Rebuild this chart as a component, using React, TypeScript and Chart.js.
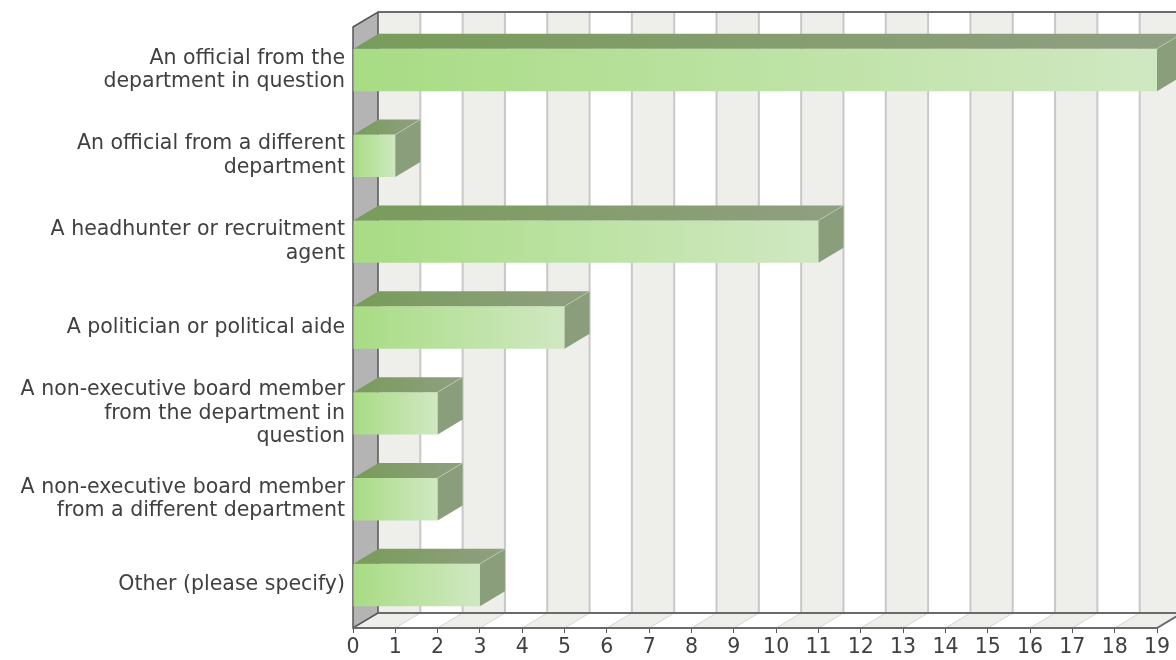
import { useEffect, useRef } from 'react';
import { Chart, registerables } from 'chart.js';

Chart.register(...registerables);

const categories: string[][] = [
  ['An official from the', 'department in question'],
  ['An official from a different', 'department'],
  ['A headhunter or recruitment', 'agent'],
  ['A politician or political aide'],
  ['A non-executive board member', 'from the department in', 'question'],
  ['A non-executive board member', 'from a different department'],
  ['Other (please specify)'],
];
const values: number[] = [19, 1, 11, 5, 2, 2, 3];
const axisMin = 0;
const axisMax = 19;
const axisStep = 1;

const DX = 25;
const DY = 15;
const FONT = 'DejaVu Sans';

const threeD = {
  id: 'threeD',
  beforeDatasetsDraw(chart: any) {
    const ctx: CanvasRenderingContext2D = chart.ctx;
    const { left, right, top, bottom } = chart.chartArea;
    const xs = chart.scales.x;
    ctx.save();
    const bt = top - DY;
    const bb = bottom - DY;
    ctx.fillStyle = '#ffffff';
    ctx.fillRect(left + DX, bt, right - left, bb - bt);
    for (let v = axisMin; v < axisMax; v += axisStep) {
      const i = Math.round((v - axisMin) / axisStep);
      const f0 = xs.getPixelForValue(v);
      const f1 = xs.getPixelForValue(v + axisStep);
      ctx.fillStyle = i % 2 === 0 ? '#eeeeea' : '#ffffff';
      ctx.fillRect(f0 + DX, bt, f1 - f0, bb - bt);
      ctx.beginPath();
      ctx.moveTo(f0, bottom);
      ctx.lineTo(f1, bottom);
      ctx.lineTo(f1 + DX, bb);
      ctx.lineTo(f0 + DX, bb);
      ctx.closePath();
      ctx.fill();
    }
    for (let v = axisMin + axisStep; v <= axisMax; v += axisStep) {
      const fx = xs.getPixelForValue(v);
      ctx.strokeStyle = '#c8c8c8';
      ctx.lineWidth = 2;
      ctx.beginPath();
      ctx.moveTo(fx + DX, bt);
      ctx.lineTo(fx + DX, bb);
      ctx.stroke();
      ctx.strokeStyle = '#d4d4d0';
      ctx.lineWidth = 1;
      ctx.beginPath();
      ctx.moveTo(fx, bottom);
      ctx.lineTo(fx + DX, bb);
      ctx.stroke();
    }
    ctx.fillStyle = '#b4b4b4';
    ctx.beginPath();
    ctx.moveTo(left, top);
    ctx.lineTo(left + DX, bt);
    ctx.lineTo(left + DX, bb);
    ctx.lineTo(left, bottom);
    ctx.closePath();
    ctx.fill();
    ctx.strokeStyle = '#555555';
    ctx.lineWidth = 1.5;
    ctx.stroke();
    ctx.strokeStyle = '#6a6a6a';
    ctx.lineWidth = 2;
    ctx.beginPath();
    ctx.moveTo(left + DX, bt);
    ctx.lineTo(right + DX + 2, bt);
    ctx.moveTo(left + DX, bb);
    ctx.lineTo(right + DX, bb);
    ctx.moveTo(left, bottom);
    ctx.lineTo(right, bottom);
    ctx.lineTo(right + DX, bb);
    ctx.stroke();
    ctx.restore();
  },
  afterDatasetsDraw(chart: any) {
    const ctx: CanvasRenderingContext2D = chart.ctx;
    const meta = chart.getDatasetMeta(0);
    ctx.save();
    meta.data.forEach((el: any) => {
      const { x, y, base, height } = el.getProps(['x', 'y', 'base', 'height'], true);
      const t = y - height / 2;
      const b = y + height / 2;
      const g = ctx.createLinearGradient(base, 0, x + DX, 0);
      g.addColorStop(0, '#789c5a');
      g.addColorStop(1, '#909f82');
      ctx.fillStyle = g;
      ctx.beginPath();
      ctx.moveTo(base, t);
      ctx.lineTo(base + DX, t - DY);
      ctx.lineTo(x + DX, t - DY);
      ctx.lineTo(x, t);
      ctx.closePath();
      ctx.fill();
      ctx.fillStyle = '#8b9e7b';
      ctx.beginPath();
      ctx.moveTo(x, t);
      ctx.lineTo(x + DX, t - DY);
      ctx.lineTo(x + DX, b - DY);
      ctx.lineTo(x, b);
      ctx.closePath();
      ctx.fill();
      ctx.strokeStyle = 'rgba(210,230,200,0.45)';
      ctx.lineWidth = 1;
      ctx.beginPath();
      ctx.moveTo(x, t);
      ctx.lineTo(x + DX, t - DY);
      ctx.stroke();
    });
    ctx.restore();
  },
};

export default function App() {
  const ref = useRef<HTMLCanvasElement | null>(null);
  useEffect(() => {
    if (!ref.current) return;
    const chart = new Chart(ref.current, {
      type: 'bar',
      data: {
        labels: categories,
        datasets: [
          {
            data: values,
            backgroundColor: (c: any) => {
              const ch = c.chart;
              const xs = ch.scales?.x;
              if (!xs || !ch.chartArea) return '#aadd88';
              const x0 = xs.getPixelForValue(0);
              const x1 = xs.getPixelForValue(c.raw as number);
              const g = ch.ctx.createLinearGradient(x0, 0, x1 + 0.01, 0);
              g.addColorStop(0, '#a8dc84');
              g.addColorStop(1, '#d0e8c2');
              return g;
            },
            borderWidth: 0,
            borderSkipped: false,
            barPercentage: 0.494,
            categoryPercentage: 1,
          },
        ],
      },
      options: {
        indexAxis: 'y',
        animation: false,
        responsive: false,
        layout: { padding: { top: 27, right: 19, left: 0, bottom: 0 } },
        plugins: { legend: { display: false }, tooltip: { enabled: false } },
        scales: {
          x: {
            type: 'linear',
            min: axisMin,
            max: axisMax,
            ticks: {
              stepSize: axisStep,
              color: '#404040',
              font: { family: FONT, size: 20.5 },
              padding: 2,
            },
            grid: {
              display: true,
              drawOnChartArea: false,
              drawTicks: true,
              tickLength: 5,
              color: '#555555',
              lineWidth: 1,
            },
            border: { display: false },
            afterFit: (s: any) => {
              s.height = 32;
            },
          },
          y: {
            type: 'category',
            ticks: {
              color: '#404040',
              font: { family: FONT, size: 20.5, lineHeight: 1.146 },
              padding: 8,
            },
            grid: { display: false, drawTicks: false },
            border: { display: false },
            afterFit: (s: any) => {
              s.width = 353;
            },
          },
        },
      },
      plugins: [threeD],
    } as any);
    return () => chart.destroy();
  }, []);
  return (
    <div style={{ position: 'absolute', left: 0, top: 0, width: 1176, height: 660, background: '#ffffff' }}>
      <canvas ref={ref} width={1176} height={660} style={{ display: 'block' }} />
    </div>
  );
}
